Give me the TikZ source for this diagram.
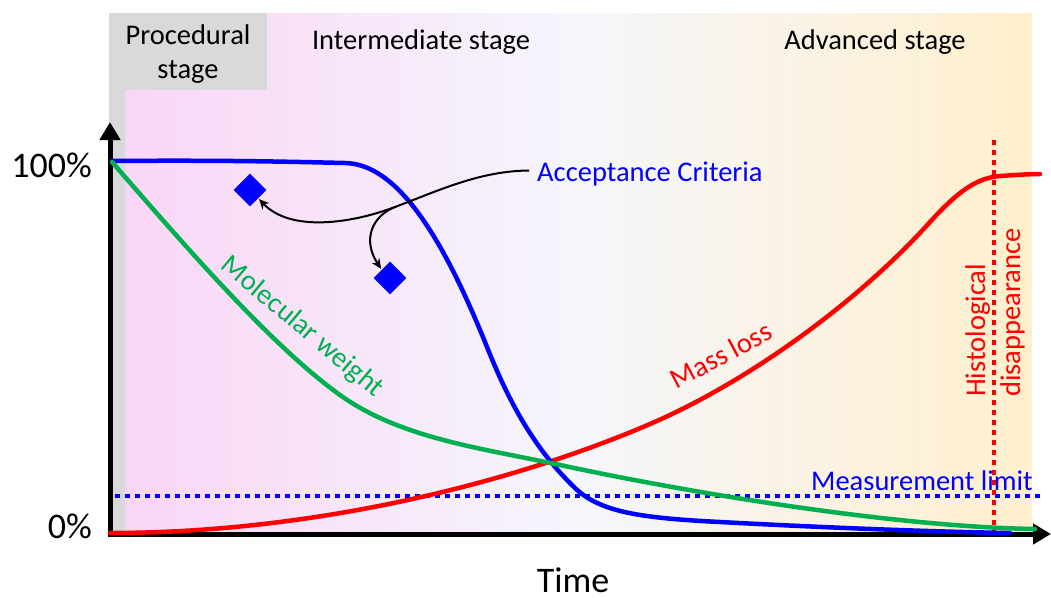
\documentclass[tikz,border=0pt]{standalone}
\usepackage{fontspec}
\setmainfont{Carlito}
\usetikzlibrary{shapes.geometric, arrows.meta, positioning}
\definecolor{stagegray}{RGB}{217,217,217}
\definecolor{pinkbg}{RGB}{250,214,246}
\definecolor{midbg}{RGB}{245,246,252}
\definecolor{creambg}{RGB}{255,239,204}
\definecolor{mwgreen}{RGB}{0,176,80}
\tikzset{
  stagelabel/.style={font=\fontsize{28.5}{34}\selectfont, align=center, inner sep=0pt},
  axislabel/.style={font=\fontsize{36}{40}\selectfont, inner sep=0pt},
  curvelabel/.style={font=\fontsize{28.5}{34}\selectfont, inner sep=0pt},
  curve/.style={line width=4.5pt, line cap=round},
  axisline/.style={line width=5pt, -{Triangle[length=18pt, width=20pt]}},
  limitline/.style={line width=4pt, dash pattern=on 5pt off 5pt},
  criterion/.style={diamond, fill=blue, minimum width=33pt, minimum height=33pt, inner sep=0pt},
  pointer/.style={line width=2pt, -{Stealth[length=10pt, width=9pt]}, shorten >=1pt},
}

\begin{document}
\begin{tikzpicture}[x=1pt, y=-1pt]
  \useasboundingbox (0,0) rectangle (1051,597);
  % stage backgrounds
  \shade[left color=pinkbg, right color=midbg] (125,13) rectangle (578,532);
  \shade[left color=midbg, right color=creambg] (578,13) rectangle (1032,532);
  \fill[stagegray] (109,13) rectangle (267,90);
  \fill[stagegray] (109,90) rectangle (125,532);

  \node[stagelabel] (proc) at (188,54) {Procedural\\stage};
  \node[stagelabel, anchor=base] (inter) at (421,49) {Intermediate stage};
  \node[stagelabel, anchor=base] (adv) at (875,49) {Advanced stage};

  % axes
  \draw[axisline] (110,536.5) -- (110,122);
  \draw[axisline] (107.5,534) -- (1051,534);
  \node[axislabel, anchor=base east] (full) at (92,177) {100\%};
  \node[axislabel, anchor=base east] (zero) at (92,538) {0\%};
  \node[axislabel, anchor=base] (time) at (573,592) {Time};

  % limits
  \draw[limitline, blue] (115,496) -- (1040,496);
  \draw[limitline, red] (994,140) -- (994,537);

  % curves
  \draw[curve, red] (110,533) .. controls (320,533) and (520,480) .. (650,424)
    .. controls (750,381) and (860,300) .. (930,222)
    .. controls (960,189) and (978,178) .. (1000,176)
    .. controls (1015,175) and (1030,174) .. (1040,174);
  \draw[curve, blue] (112,161) .. controls (230,160) and (300,162) .. (345,163)
    .. controls (395,164) and (440,230) .. (487,347)
    .. controls (505,392) and (530,445) .. (575,488)
    .. controls (600,512) and (640,518) .. (720,522)
    .. controls (850,529) and (950,532) .. (1010,533);
  \draw[curve, mwgreen] (112,162) .. controls (180,240) and (270,345) .. (340,395)
    .. controls (400,438) and (480,448) .. (560,465)
    .. controls (700,495) and (900,527) .. (1035,529);

  \node[curvelabel, text=mwgreen, rotate=-40] (mwlabel) at (302,327) {Molecular weight};
  \node[curvelabel, text=red, rotate=28] (mllabel) at (721,355) {Mass loss};
  \node[curvelabel, text=blue, anchor=base east] (limit) at (1033,490) {Measurement limit};
  \node[curvelabel, text=red, rotate=90, anchor=base west] (histo) at (985,397) {Histological};
  \node[curvelabel, text=red, rotate=90, anchor=base west] (disap) at (1020,397) {disappearance};

  % acceptance criteria
  \node[criterion] (crit1) at (250,190) {};
  \node[criterion] (crit2) at (390,278) {};
  \node[curvelabel, text=blue, anchor=base west, inner xsep=8pt] (acc) at (529,181) {Acceptance Criteria};
  \coordinate (fork) at (395,207);
  \draw[pointer] ([yshift=3pt]acc.west) .. controls (480,171) and (440,190) .. (fork)
    .. controls (350,224) and (290,232) .. (crit1.south east);
  \draw[pointer] (fork) .. controls (372,216) and (362,240) .. (crit2.north west);
\end{tikzpicture}
\end{document}
